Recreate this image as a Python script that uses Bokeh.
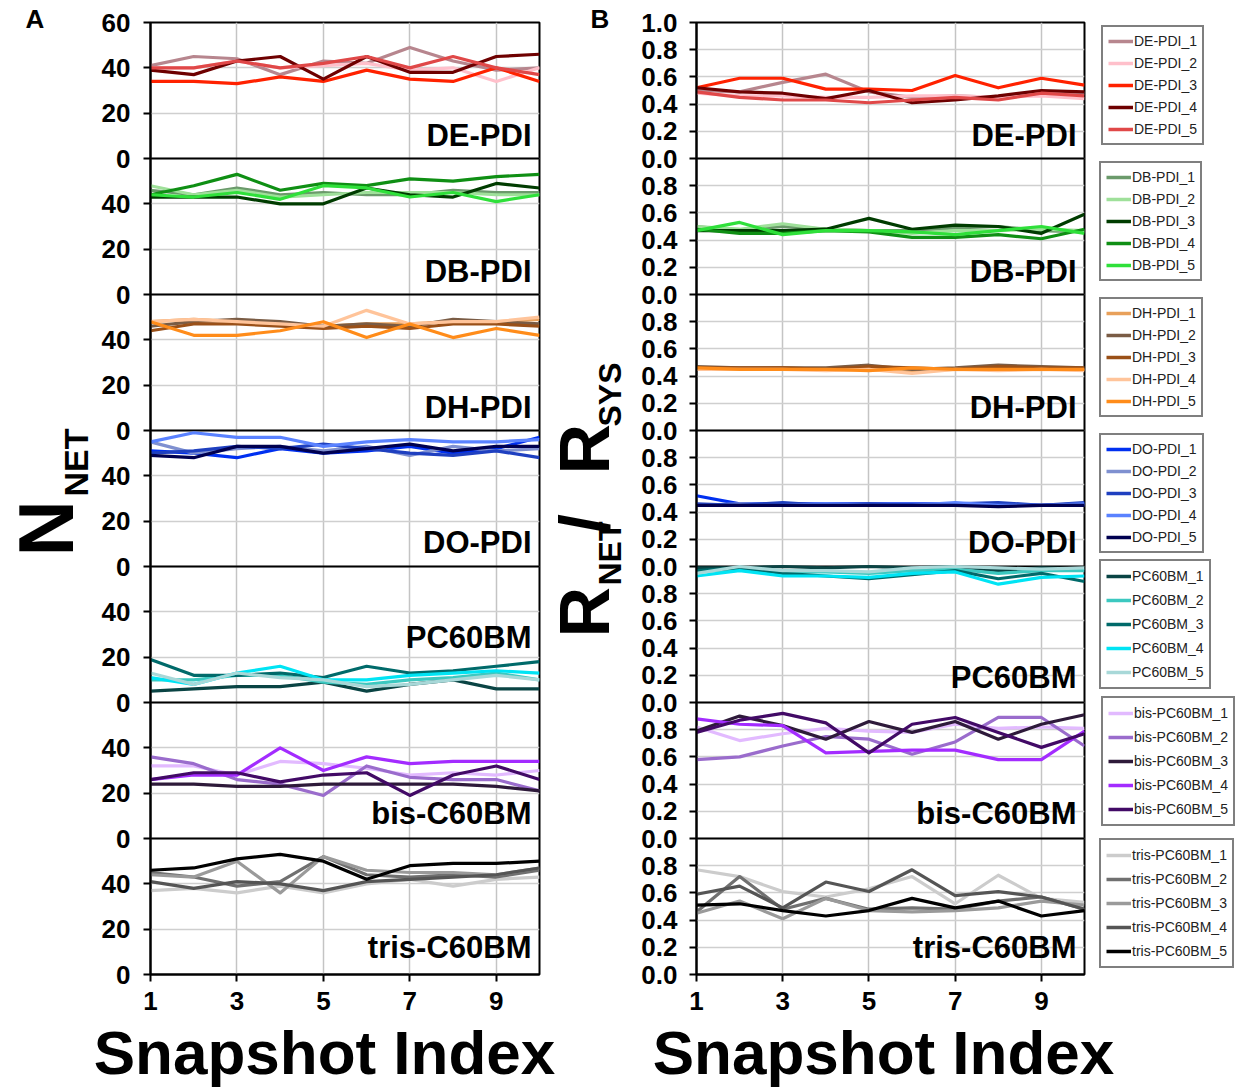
import math
from bokeh.plotting import figure
from bokeh.models import Range1d, LinearAxis, FixedTicker, Grid, Span, Label, Legend, LegendItem
from bokeh.layouts import row, column
from bokeh.embed import file_html
from bokeh.resources import INLINE
from bokeh.core.properties import value

FONT = "Liberation Sans"

# ---------------- data ----------------
snapshots = [1, 2, 3, 4, 5, 6, 7, 8, 9, 10]
x_ticks = [1, 3, 5, 7, 9]

systems = ["DE-PDI", "DB-PDI", "DH-PDI", "DO-PDI", "PC60BM", "bis-C60BM", "tris-C60BM"]
legend_prefixes = ["DE-PDI", "DB-PDI", "DH-PDI", "DO-PDI", "PC60BM", "bis-PC60BM", "tris-PC60BM"]

nnet_ticks = [0, 20, 40]
nnet_top = 60
rsys_ticks = [0.0, 0.2, 0.4, 0.6, 0.8]
rsys_top = 1.0

colors_de = ["#b7868e", "#ffc0cb", "#ff2200", "#6e0000", "#e04848"]
colors_db = ["#6b9a6b", "#9fe09a", "#003c00", "#0f8f14", "#2fe03a"]
colors_dh = ["#e8a05a", "#7a5c45", "#9a5018", "#ffc49a", "#ff8c1a"]
colors_do = ["#0030f0", "#7f90d0", "#1f40c0", "#5a82ff", "#000050"]
colors_pc = ["#0a4444", "#3cc8c0", "#006a6a", "#00e4f4", "#a8d8d8"]
colors_bis = ["#e2baff", "#9a6ccc", "#2e1a3a", "#a32cff", "#420a66"]
colors_tris = ["#cccccc", "#707070", "#9a9a9a", "#555555", "#000000"]

# Panel A: N_NET
nnet_de = [
    [41, 45, 44, 37, 43, 42, 49, 43, 39, 40],
    [40, 40, 43, 40, 41, 42, 39, 40, 34, 40],
    [34, 34, 33, 36, 34, 39, 35, 34, 40, 34],
    [39, 37, 43, 45, 35, 45, 38, 38, 45, 46],
    [40, 40, 43, 40, 42, 45, 40, 45, 40, 37],
]
nnet_db = [
    [46, 44, 47, 44, 45, 44, 44, 46, 45, 45],
    [48, 44, 46, 43, 44, 45, 45, 45, 44, 44],
    [43, 43, 43, 40, 40, 47, 44, 43, 49, 47],
    [44, 48, 53, 46, 49, 48, 51, 50, 52, 53],
    [44, 43, 45, 42, 48, 47, 43, 45, 41, 44],
]
nnet_dh = [
    [48, 49, 48, 47, 46, 47, 47, 48, 48, 49],
    [46, 48, 49, 48, 46, 47, 46, 49, 48, 47],
    [44, 47, 47, 46, 45, 46, 45, 47, 47, 46],
    [48, 49, 48, 47, 46, 53, 47, 48, 48, 50],
    [48, 42, 42, 44, 48, 41, 47, 41, 45, 42],
]
nnet_do = [
    [51, 50, 48, 52, 50, 51, 53, 50, 52, 57],
    [55, 50, 52, 53, 51, 53, 49, 53, 51, 52],
    [50, 51, 53, 52, 54, 52, 50, 49, 51, 48],
    [55, 59, 57, 57, 53, 55, 56, 55, 55, 56],
    [49, 48, 53, 53, 50, 52, 54, 51, 53, 53],
]
nnet_pc = [
    [5, 6, 7, 7, 9, 5, 8, 10, 6, 6],
    [10, 10, 12, 12, 9, 8, 10, 11, 13, 10],
    [19, 12, 12, 13, 11, 16, 13, 14, 16, 18],
    [11, 8, 13, 16, 10, 10, 12, 13, 14, 13],
    [13, 8, 13, 11, 10, 7, 8, 10, 12, 10],
]
nnet_bis = [
    [32, 32, 28, 34, 33, 31, 28, 29, 28, 30],
    [36, 33, 26, 24, 19, 32, 27, 26, 26, 21],
    [24, 24, 23, 23, 24, 24, 24, 24, 23, 21],
    [26, 28, 28, 40, 30, 36, 33, 34, 34, 34],
    [26, 29, 29, 25, 28, 29, 19, 28, 32, 26],
]
nnet_tris = [
    [37, 38, 36, 39, 36, 40, 42, 39, 42, 43],
    [45, 43, 39, 41, 52, 44, 43, 44, 43, 46],
    [44, 43, 50, 36, 52, 46, 45, 45, 44, 47],
    [41, 38, 41, 40, 37, 41, 42, 43, 44, 47],
    [46, 47, 51, 53, 50, 42, 48, 49, 49, 50],
]

# Panel B: R_NET / R_SYS
rsys_de = [
    [0.50, 0.49, 0.56, 0.62, 0.49, 0.45, 0.46, 0.45, 0.48, 0.48],
    [0.48, 0.46, 0.46, 0.45, 0.45, 0.46, 0.46, 0.45, 0.46, 0.44],
    [0.52, 0.59, 0.59, 0.51, 0.51, 0.50, 0.61, 0.52, 0.59, 0.54],
    [0.52, 0.49, 0.48, 0.44, 0.50, 0.41, 0.43, 0.46, 0.50, 0.49],
    [0.49, 0.45, 0.43, 0.43, 0.41, 0.43, 0.45, 0.43, 0.48, 0.46],
]
rsys_db = [
    [0.50, 0.47, 0.50, 0.48, 0.47, 0.47, 0.49, 0.50, 0.47, 0.46],
    [0.50, 0.48, 0.52, 0.48, 0.47, 0.45, 0.47, 0.47, 0.48, 0.47],
    [0.47, 0.47, 0.47, 0.48, 0.56, 0.48, 0.51, 0.50, 0.45, 0.59],
    [0.48, 0.45, 0.45, 0.47, 0.46, 0.42, 0.42, 0.44, 0.41, 0.48],
    [0.47, 0.53, 0.44, 0.47, 0.47, 0.46, 0.44, 0.47, 0.50, 0.45],
]
rsys_dh = [
    [0.46, 0.45, 0.46, 0.45, 0.45, 0.44, 0.45, 0.45, 0.45, 0.45],
    [0.47, 0.46, 0.46, 0.46, 0.48, 0.45, 0.46, 0.48, 0.47, 0.46],
    [0.46, 0.46, 0.46, 0.45, 0.47, 0.46, 0.45, 0.47, 0.46, 0.46],
    [0.45, 0.45, 0.45, 0.44, 0.45, 0.42, 0.45, 0.44, 0.45, 0.44],
    [0.46, 0.45, 0.45, 0.45, 0.44, 0.46, 0.45, 0.45, 0.45, 0.45],
]
rsys_do = [
    [0.52, 0.46, 0.46, 0.46, 0.46, 0.46, 0.46, 0.46, 0.45, 0.46],
    [0.45, 0.46, 0.45, 0.45, 0.45, 0.45, 0.46, 0.45, 0.45, 0.45],
    [0.46, 0.45, 0.47, 0.45, 0.46, 0.45, 0.46, 0.47, 0.45, 0.47],
    [0.45, 0.45, 0.45, 0.46, 0.45, 0.45, 0.47, 0.45, 0.45, 0.46],
    [0.45, 0.45, 0.45, 0.45, 0.45, 0.45, 0.45, 0.44, 0.45, 0.45],
]
rsys_pc = [
    [0.99, 0.99, 1.00, 0.99, 1.00, 0.99, 1.00, 0.97, 0.99, 0.98],
    [0.96, 0.98, 0.96, 0.96, 0.95, 0.97, 0.98, 0.95, 0.97, 0.97],
    [0.97, 0.99, 0.95, 0.93, 0.91, 0.94, 0.97, 0.91, 0.95, 0.89],
    [0.93, 0.97, 0.93, 0.93, 0.92, 0.95, 0.96, 0.87, 0.92, 0.93],
    [0.95, 1.00, 0.97, 0.97, 0.96, 0.99, 1.00, 0.99, 0.98, 0.99],
]
rsys_bis = [
    [0.82, 0.72, 0.77, 0.81, 0.79, 0.78, 0.84, 0.81, 0.82, 0.81],
    [0.58, 0.60, 0.68, 0.75, 0.73, 0.62, 0.71, 0.89, 0.89, 0.68],
    [0.79, 0.90, 0.83, 0.73, 0.86, 0.78, 0.86, 0.73, 0.84, 0.91],
    [0.88, 0.84, 0.83, 0.63, 0.64, 0.65, 0.65, 0.58, 0.58, 0.79],
    [0.78, 0.87, 0.92, 0.85, 0.63, 0.84, 0.89, 0.78, 0.67, 0.77],
]
rsys_tris = [
    [0.77, 0.72, 0.61, 0.57, 0.63, 0.72, 0.52, 0.73, 0.56, 0.53],
    [0.46, 0.72, 0.48, 0.56, 0.48, 0.49, 0.48, 0.54, 0.57, 0.48],
    [0.45, 0.54, 0.41, 0.56, 0.47, 0.46, 0.47, 0.49, 0.54, 0.51],
    [0.59, 0.65, 0.49, 0.68, 0.61, 0.77, 0.58, 0.61, 0.57, 0.48],
    [0.51, 0.52, 0.47, 0.43, 0.47, 0.56, 0.49, 0.54, 0.43, 0.47],
]

colors = [colors_de, colors_db, colors_dh, colors_do, colors_pc, colors_bis, colors_tris]
nnet = [nnet_de, nnet_db, nnet_dh, nnet_do, nnet_pc, nnet_bis, nnet_tris]
rsys = [rsys_de, rsys_db, rsys_dh, rsys_do, rsys_pc, rsys_bis, rsys_tris]

NB = len(systems)

# ---------------- layout constants (page pixels) ----------------
H_MAIN = 1018          # height of the main row
B_TOP, B_BOT = 22, 44  # borders above / below the plotting frames
FRAME_TOP, FRAME_BOT = B_TOP, H_MAIN - B_BOT
H_BOTTOM = 1090 - H_MAIN


def canvas(w, h, top=0, bottom=0, y0=0, y1=None):
    y1 = h if y1 is None else y1
    c = figure(width=w, height=h, x_range=Range1d(0, w), y_range=Range1d(y1, y0),
               output_backend="svg", toolbar_location=None,
               x_axis_location=None, y_axis_location=None,
               min_border_left=0, min_border_right=0,
               min_border_top=top, min_border_bottom=bottom)
    c.xgrid.visible = False
    c.ygrid.visible = False
    c.outline_line_color = None
    return c


def stacked_panel(data, band, ticks, top, scale, fmt, w, mb_left, mb_right, label_dy, standoff):
    span = band * scale
    p = figure(width=w, height=H_MAIN, x_range=Range1d(1, 10), y_range=Range1d(0, NB * span),
               output_backend="svg", toolbar_location=None,
               x_axis_location=None, y_axis_location=None,
               min_border_left=mb_left, min_border_right=mb_right,
               min_border_top=B_TOP, min_border_bottom=B_BOT)
    p.xgrid.visible = False
    p.ygrid.visible = False
    p.outline_line_color = "black"
    p.outline_line_width = 2

    tick_pos, overrides = [], {}
    for k in range(NB):
        for t in ticks:
            pos = int(round(k * span + t * scale))
            tick_pos.append(pos)
            overrides[pos] = fmt(t)
    tick_pos.append(int(NB * span))
    overrides[int(NB * span)] = fmt(top)

    yax = LinearAxis(ticker=FixedTicker(ticks=tick_pos), major_label_overrides=overrides)
    xax = LinearAxis(ticker=FixedTicker(ticks=x_ticks))
    for ax in (yax, xax):
        ax.axis_line_width = 2
        ax.axis_line_color = "black"
        ax.major_tick_line_width = 2
        ax.major_tick_out = 7
        ax.major_tick_in = 0
        ax.minor_tick_out = 0
        ax.minor_tick_in = 0
        ax.major_label_text_font = FONT
        ax.major_label_text_font_style = "bold"
        ax.major_label_text_font_size = "26px"
        ax.major_label_text_color = "black"
    yax.major_label_standoff = standoff
    xax.major_label_standoff = 10
    p.add_layout(yax, "left")
    p.add_layout(xax, "below")
    p.add_layout(Grid(dimension=0, ticker=xax.ticker, grid_line_color="#c4c4c4", grid_line_width=1.5))
    p.add_layout(Grid(dimension=1, ticker=yax.ticker, grid_line_color="#cfcfcf", grid_line_width=1.5))
    for k in range(1, NB):
        p.add_layout(Span(location=k * span, dimension="width", line_color="black",
                          line_width=2, level="underlay"))

    p.extra_y_ranges = {f"b{i}": Range1d(-(NB - 1 - i) * band, (i + 1) * band) for i in range(NB)}
    for i in range(NB):
        for j in range(5):
            p.line(snapshots, data[i][j], y_range_name=f"b{i}", line_color=colors[i][j],
                   line_width=3.2, line_join="round")
        p.text(x=[10], y=[0], text=[systems[i]], y_range_name=f"b{i}",
               text_align="right", text_baseline="alphabetic", x_offset=-8, y_offset=-label_dy[i],
               text_font=value(FONT), text_font_style="bold", text_font_size="31px",
               text_color="black")
    return p


figA = stacked_panel(nnet, 60, nnet_ticks, nnet_top, 1, lambda t: str(int(t)),
                     446, 52, 5, [23, 23, 23, 24, 65, 25, 27], 13)
figB = stacked_panel(rsys, 1.0, rsys_ticks, rsys_top, 100, lambda t: f"{t:.1f}",
                     452, 58, 6, [23, 23, 23, 24, 25, 25, 27], 12)


def add_label(c, x, y, text, size, angle=0.0):
    c.add_layout(Label(x=x, y=y, text=text, angle=angle, text_font=FONT,
                       text_font_style="bold", text_font_size=size, text_align="left",
                       text_baseline="alphabetic", text_color="black"))


# Left title canvas: its frame is the whole canvas (data coords == page pixels)
leftA = canvas(98, H_MAIN)
add_label(leftA, 25, 18, "A", "26px")
add_label(leftA, 45, 556, "N", "78px", math.pi / 2)
add_label(leftA, 75, 496, "NET", "34px", math.pi / 2)

# Middle title canvas, page x starts at 544
midB = canvas(94, H_MAIN)
add_label(midB, 46, 18, "B", "26px")
for txt, x, y, fs in [("R", 40, 637, "70px"), ("NET", 65, 585, "32px"), ("/", 40, 533, "70px"),
                      ("R", 40, 474, "70px"), ("SYS", 65, 426, "32px")]:
    add_label(midB, x, y, txt, fs, math.pi / 2)

# Legend canvas, page x starts at 1090
legfig = canvas(151, H_MAIN, B_TOP, B_BOT, FRAME_TOP, FRAME_BOT)
leg_left = [11, 9, 9, 9, 9, 11, 9]
leg_bottom_page = [145, 281, 417, 553, 689, 826, 968]
leg_row_h = [18, 18, 18, 18, 20, 20, 20]
for i in range(NB):
    items = []
    for j in range(5):
        r = legfig.line([-10, -5], [-10, -10], line_color=colors[i][j], line_width=3.5)
        items.append(LegendItem(label=f"{legend_prefixes[i]}_{j + 1}", renderers=[r]))
    lg = Legend(items=items, location=(leg_left[i], FRAME_BOT - leg_bottom_page[i]), margin=0,
                padding=5, spacing=4, glyph_width=25, glyph_height=leg_row_h[i],
                label_height=leg_row_h[i], label_standoff=1, label_text_font=FONT,
                label_text_font_size="14px", label_text_color="#222222",
                border_line_color="black", border_line_width=2.5,
                background_fill_color="white", background_fill_alpha=1.0)
    legfig.add_layout(lg)

# Bottom canvas with the x-axis titles (page y starts at H_MAIN)
bottom = canvas(1241, H_BOTTOM)
for cx in (324, 883):
    bottom.add_layout(Label(x=cx, y=34, text="Snapshot Index", text_font=FONT,
                            text_font_style="bold", text_font_size="62px",
                            text_align="center", text_baseline="alphabetic", text_color="black"))

layout = column(row(column(leftA), figA, column(midB), figB, legfig), bottom)

open("out.html", "w").write(file_html(layout, INLINE))
